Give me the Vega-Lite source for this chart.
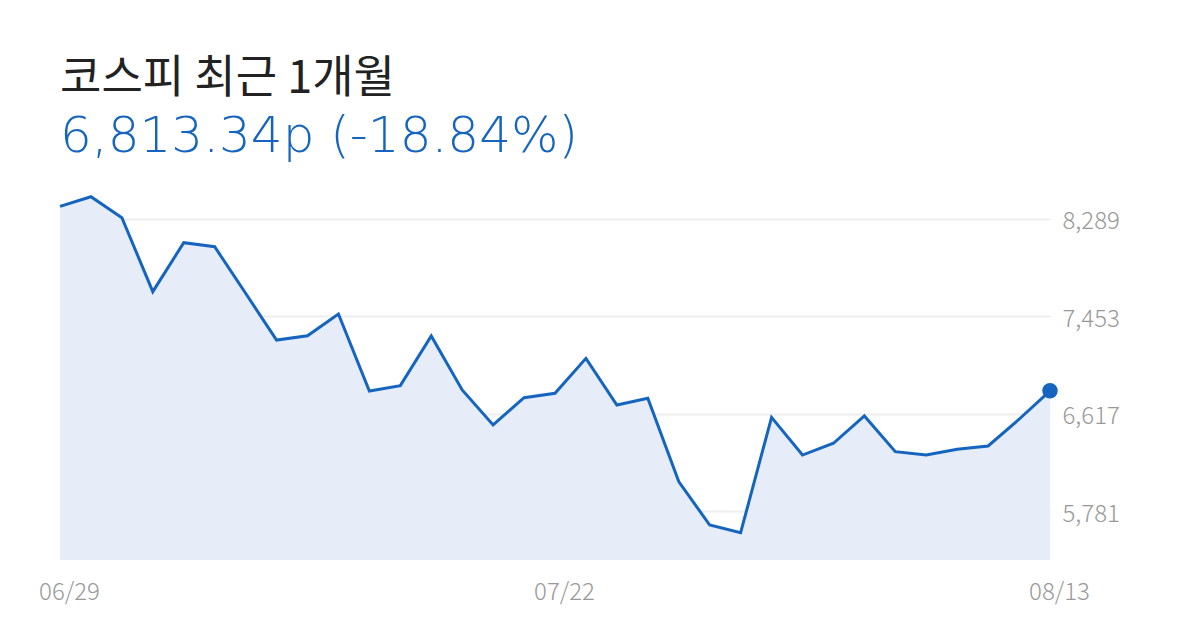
{
  "$schema": "https://vega.github.io/schema/vega-lite/v6.json",
  "width": 990,
  "height": 390,
  "autosize": {"type": "none"},
  "padding": {"left": 60, "top": 170, "right": 150, "bottom": 70},
  "background": "white",
  "title": {
    "text": "코스피 최근 1개월",
    "subtitle": "6,813.34p (-18.84%)",
    "anchor": "start",
    "frame": "group",
    "offset": 8,
    "font": "Noto Sans CJK KR",
    "fontSize": 45,
    "fontWeight": 400,
    "color": "#222222",
    "subtitleFont": "DejaVu Sans",
    "subtitleFontSize": 50,
    "subtitleFontWeight": 300,
    "subtitleColor": "#1565C0",
    "subtitlePadding": 10
  },
  "data": {
    "values": [
      {"date": "06/29", "close": 8395},
      {"date": "06/30", "close": 8478},
      {"date": "07/01", "close": 8298},
      {"date": "07/02", "close": 7664},
      {"date": "07/03", "close": 8084},
      {"date": "07/06", "close": 8049},
      {"date": "07/07", "close": 7650},
      {"date": "07/08", "close": 7249},
      {"date": "07/09", "close": 7286},
      {"date": "07/10", "close": 7472},
      {"date": "07/13", "close": 6812},
      {"date": "07/14", "close": 6858},
      {"date": "07/15", "close": 7284},
      {"date": "07/16", "close": 6821},
      {"date": "07/20", "close": 6521},
      {"date": "07/21", "close": 6755},
      {"date": "07/22", "close": 6792},
      {"date": "07/23", "close": 7092},
      {"date": "07/24", "close": 6692},
      {"date": "07/27", "close": 6750},
      {"date": "07/28", "close": 6035},
      {"date": "07/29", "close": 5663},
      {"date": "07/30", "close": 5597},
      {"date": "07/31", "close": 6586},
      {"date": "08/03", "close": 6263},
      {"date": "08/04", "close": 6364},
      {"date": "08/05", "close": 6598},
      {"date": "08/06", "close": 6292},
      {"date": "08/07", "close": 6263},
      {"date": "08/10", "close": 6313},
      {"date": "08/11", "close": 6341},
      {"date": "08/12", "close": 6570},
      {"date": "08/13", "close": 6813.34}
    ]
  },
  "encoding": {
    "x": {
      "field": "date",
      "type": "ordinal",
      "scale": {"type": "point", "padding": 0},
      "axis": {
        "values": ["06/29", "07/22", "08/13"],
        "title": null,
        "domain": false,
        "ticks": false,
        "labelAngle": 0,
        "labelOffset": 9,
        "labelPadding": 20,
        "labelFont": "Noto Sans CJK KR",
        "labelFontSize": 24,
        "labelFontWeight": 300,
        "labelColor": "#999999"
      }
    },
    "y": {
      "field": "close",
      "type": "quantitative",
      "scale": {"domain": [5363, 8707], "zero": false, "nice": false},
      "axis": {
        "orient": "right",
        "values": [5781, 6617, 7453, 8289],
        "format": ",d",
        "title": null,
        "domain": false,
        "ticks": false,
        "labelPadding": 12,
        "labelOffset": 3,
        "labelFont": "Noto Sans CJK KR",
        "labelFontSize": 24,
        "labelFontWeight": 300,
        "labelColor": "#999999",
        "grid": true,
        "gridColor": "#eeeeee",
        "gridWidth": 2
      }
    }
  },
  "layer": [
    {
      "mark": {"type": "area", "color": "#e6edf8"},
      "encoding": {"y2": {"datum": 5363}}
    },
    {
      "mark": {"type": "line", "color": "#1565C0", "strokeWidth": 3}
    },
    {
      "transform": [{"filter": "datum.date == '08/13'"}],
      "mark": {"type": "point", "filled": true, "color": "#1565C0", "size": 240, "opacity": 1}
    }
  ],
  "config": {
    "view": {"stroke": null}
  }
}
